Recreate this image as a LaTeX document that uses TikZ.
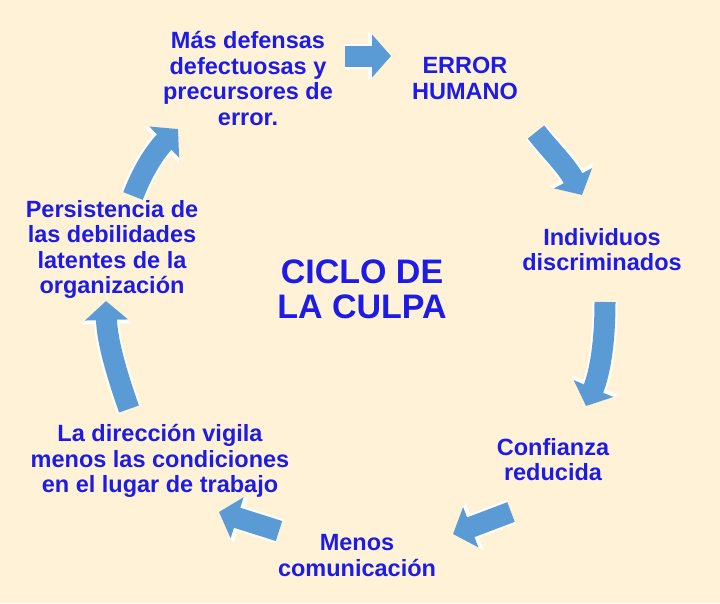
\documentclass[tikz,border=0pt]{standalone}
\usepackage{fontspec}
\setmainfont{Liberation Sans}
\usetikzlibrary{arrows.meta}
\definecolor{bgc}{HTML}{FFF2D6}
\definecolor{txtc}{HTML}{1C1CE6}
\definecolor{arrc}{HTML}{5B9BD5}
\tikzset{
  lbl/.style={text=txtc, font=\bfseries\fontsize{23.5}{25.5}\selectfont, align=center, inner sep=0pt},
  title/.style={text=txtc, font=\bfseries\fontsize{34}{35}\selectfont, align=center, inner sep=0pt},
  blockarrow/.style={draw=arrc, line width=21pt, -{Triangle[width=42pt,length=19pt]},
    preaction={draw=white, line width=25pt, -{Triangle[width=49pt,length=23pt]}}}
}
\begin{document}
\begin{tikzpicture}[x=1pt,y=-1pt]
\fill[bgc] (0,0) rectangle (720,603);
\useasboundingbox (0,0) rectangle (720,603);

\node[lbl] (n1) at (248,78.5) {Más defensas\\defectuosas y\\precursores de\\error.};
\node[lbl] (n2) at (465,78.5) {ERROR\\HUMANO};
\node[lbl] (n3) at (602,249.5) {Individuos\\discriminados};
\node[lbl] (n4) at (553,459.5) {Confianza\\reducida};
\node[lbl] (n5) at (357,555.5) {Menos\\comunicación};
\node[lbl] (n6) at (160,461) {La dirección vigila\\menos las condiciones\\en el lugar de trabajo};
\node[lbl] (n7) at (112,249.5) {Persistencia de\\las debilidades\\latentes de la\\organización};
\node[title] (c) at (362,289.5) {CICLO DE\\LA CULPA};

\coordinate (a1s) at (345,56);  \coordinate (a1e) at (391,56);
\coordinate (a2s) at (536,132); \coordinate (a2e) at (582,195);
\coordinate (a3s) at (605,302); \coordinate (a3e) at (586,406);
\coordinate (a4s) at (511,512); \coordinate (a4e) at (453,534);
\coordinate (a5s) at (279,531); \coordinate (a5e) at (219,512);
\coordinate (a6s) at (129,409); \coordinate (a6e) at (106,301);
\coordinate (a7s) at (133,196); \coordinate (a7e) at (178,129);

\draw[blockarrow] (a1s) -- (a1e);
\draw[blockarrow] (a2s) .. controls (550,150) and (566,165) .. (a2e);
\draw[blockarrow] (a3s) .. controls (605,350) and (598,378) .. (a3e);
\draw[blockarrow] (a4s) -- (a4e);
\draw[blockarrow] (a5s) -- (a5e);
\draw[blockarrow] (a6s) .. controls (116,372) and (107,340) .. (a6e);
\draw[blockarrow] (a7s) .. controls (143,170) and (156,150) .. (a7e);
\end{tikzpicture}
\end{document}
